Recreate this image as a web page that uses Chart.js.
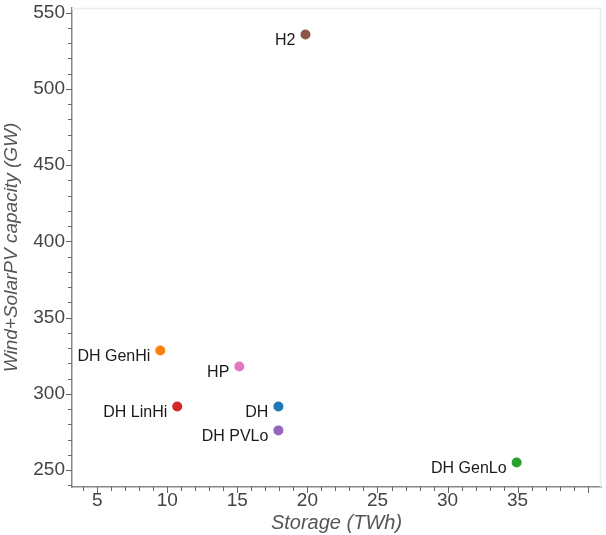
<!DOCTYPE html>
<html>
<head>
<meta charset="utf-8">
<script src="https://cdn.jsdelivr.net/npm/chart.js@4/dist/chart.umd.min.js"></script>
<style>
html,body{margin:0;padding:0;background:#fff;}
#wrap{width:606px;height:535px;position:relative;}
</style>
</head>
<body>
<div id="wrap"><canvas id="c" width="606" height="535"></canvas></div>
<script>
const scenarios = ["DH", "DH GenHi", "DH GenLo", "DH LinHi", "DH PVLo", "H2", "HP"];
const storageTWh = [17.93, 9.5, 34.93, 10.71, 17.93, 19.86, 15.14];
const capacityGW = [291.8, 328.5, 255.1, 291.8, 276.1, 535.6, 318.0];
const colors = ["#1f77b4", "#ff7f0e", "#2ca02c", "#d62728", "#9467bd", "#8c564b", "#e377c2"];
const xTickValues = [5, 10, 15, 20, 25, 30, 35];
const yTickValues = [250, 300, 350, 400, 450, 500, 550];

const FONT = "'Liberation Sans', Arial, Helvetica, sans-serif";

const datasets = scenarios.map((name, i) => ({
  label: name,
  data: [{x: storageTWh[i], y: capacityGW[i]}],
  backgroundColor: colors[i],
  borderColor: colors[i],
  pointRadius: 5,
  pointHoverRadius: 5,
  borderWidth: 0
}));

const decor = {
  id: 'decor',
  beforeDatasetsDraw(chart) {
    const ctx = chart.ctx, a = chart.chartArea;
    ctx.save();
    ctx.strokeStyle = '#ececec';
    ctx.lineWidth = 1.5;
    ctx.beginPath();
    ctx.moveTo(a.left, a.top + 0.5);
    ctx.lineTo(a.right - 0.5, a.top + 0.5);
    ctx.lineTo(a.right - 0.5, a.bottom);
    ctx.stroke();
    const xs = chart.scales.x, ys = chart.scales.y;
    ctx.strokeStyle = '#666';
    ctx.lineWidth = 1;
    for (let v = Math.ceil(xs.min); v <= xs.max; v++) {
      const px = Math.round(xs.getPixelForValue(v)) + 0.5;
      const len = (v % 5 === 0) ? 6 : 4;
      ctx.beginPath();
      ctx.moveTo(px, a.bottom);
      ctx.lineTo(px, a.bottom + len);
      ctx.stroke();
    }
    for (let v = Math.ceil(ys.min / 10) * 10; v <= ys.max; v += 10) {
      const py = Math.round(ys.getPixelForValue(v)) + 0.5;
      const len = (v % 50 === 0) ? 6 : 4;
      ctx.beginPath();
      ctx.moveTo(a.left, py);
      ctx.lineTo(a.left - len, py);
      ctx.stroke();
    }
    ctx.restore();
  },
  afterDatasetsDraw(chart) {
    const ctx = chart.ctx;
    const xs = chart.scales.x, ys = chart.scales.y;
    ctx.save();
    ctx.font = '16px ' + FONT;
    ctx.fillStyle = '#1a1a1a';
    ctx.textAlign = 'right';
    ctx.textBaseline = 'middle';
    scenarios.forEach((name, i) => {
      const px = xs.getPixelForValue(storageTWh[i]);
      const py = ys.getPixelForValue(capacityGW[i]);
      ctx.fillText(name, px - 10, py + 6);
    });
    ctx.restore();
  }
};

new Chart(document.getElementById('c'), {
  type: 'scatter',
  data: { datasets },
  options: {
    responsive: false,
    animation: false,
    events: [],
    layout: { padding: { left: 0, right: 2, top: 8, bottom: 0 } },
    plugins: { legend: { display: false }, tooltip: { enabled: false } },
    scales: {
      x: {
        type: 'linear',
        min: 3.2, max: 40.95,
        afterFit: s => { s.height = 48; s.paddingLeft = 0; s.paddingRight = 0; },
        afterBuildTicks: s => { s.ticks = xTickValues.map(v => ({value: v})); },
        ticks: { font: { size: 19, family: FONT }, color: '#444', padding: 2, maxRotation: 0 },
        grid: { display: true, drawOnChartArea: false, drawTicks: false },
        border: { display: true, color: '#888', width: 1.5 },
        title: { display: true, text: 'Storage (TWh)', color: '#555',
                 font: { size: 20, style: 'italic', family: FONT }, padding: { top: 4, bottom: 0 } }
      },
      y: {
        type: 'linear',
        min: 239, max: 553,
        afterFit: s => { s.width = 72; s.paddingTop = 0; s.paddingBottom = 0; },
        afterBuildTicks: s => { s.ticks = yTickValues.map(v => ({value: v})); },
        ticks: { font: { size: 19, family: FONT }, color: '#444', padding: 7 },
        grid: { display: true, drawOnChartArea: false, drawTicks: false },
        border: { display: true, color: '#888', width: 1.5 },
        title: { display: true, text: 'Wind+SolarPV capacity (GW)', color: '#555',
                 font: { size: 19, style: 'italic', family: FONT }, padding: { top: 0, bottom: 2 } }
      }
    }
  },
  plugins: [decor]
});
</script>
</body>
</html>
